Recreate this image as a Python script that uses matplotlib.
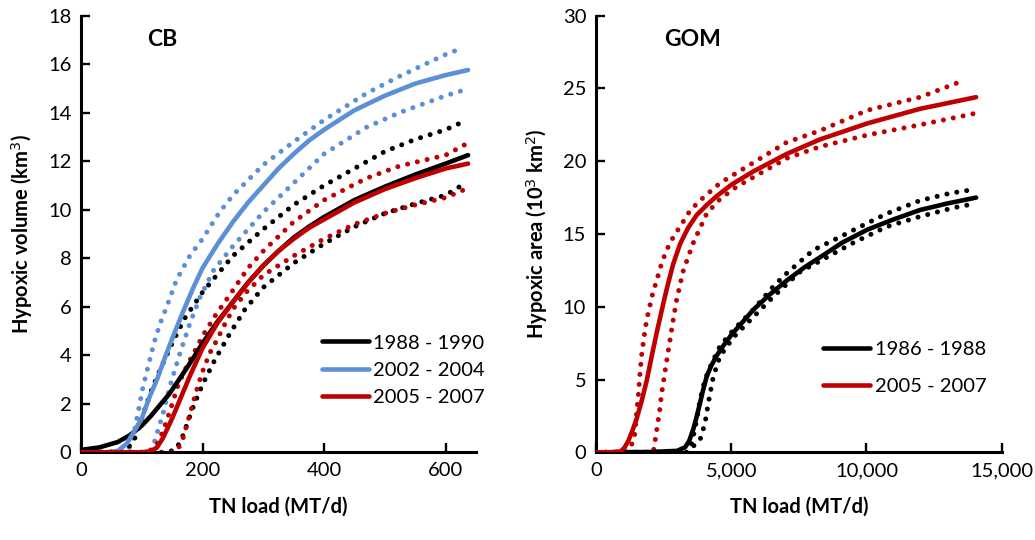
import matplotlib
matplotlib.use("Agg")
import matplotlib.pyplot as plt

plt.rcParams['font.family'] = ['Lato', 'DejaVu Sans']

# ---------------- CB (Chesapeake Bay) ----------------
cb_labels = ["1988 - 1990", "2002 - 2004", "2005 - 2007"]

cb88_x = [0, 30, 60, 80, 100, 115, 130, 145, 160, 180, 200, 225, 250, 275, 300, 325, 350, 375, 400, 450, 500, 550, 600, 637]
cb88_y = [0.1, 0.2, 0.42, 0.7, 1.1, 1.5, 1.95, 2.4, 2.95, 3.7, 4.5, 5.4, 6.2, 7.0, 7.7, 8.3, 8.85, 9.3, 9.7, 10.4, 10.95, 11.45, 11.9, 12.25]
cb88_up_x = [0, 40, 70, 86, 100, 115, 130, 150, 170, 200, 250, 300, 350, 400, 450, 500, 550, 600, 623]
cb88_up_y = [0, 0, 0.05, 0.4, 1.4, 2.5, 3.4, 4.5, 5.5, 6.6, 8.1, 9.2, 10.2, 11.0, 11.7, 12.4, 12.9, 13.3, 13.56]
cb88_lo_x = [0, 140, 155, 165, 175, 185, 200, 220, 245, 270, 300, 350, 400, 450, 500, 550, 600, 623]
cb88_lo_y = [0, 0, 0.1, 0.5, 1.2, 1.9, 2.8, 3.8, 4.9, 5.9, 6.8, 7.8, 8.6, 9.3, 9.85, 10.25, 10.6, 10.95]

cb02_x = [0, 40, 60, 75, 86, 100, 113, 125, 141, 155, 168, 185, 200, 225, 250, 275, 300, 325, 350, 375, 400, 450, 500, 550, 600, 637]
cb02_y = [0, 0, 0.05, 0.35, 0.8, 1.4, 2.3, 3.0, 4.1, 5.0, 5.8, 6.8, 7.6, 8.6, 9.5, 10.3, 11.0, 11.7, 12.3, 12.85, 13.3, 14.1, 14.7, 15.2, 15.55, 15.76]
cb02_up_x = [0, 60, 75, 82, 88, 95, 102, 110, 120, 130, 141, 157, 179, 200, 228, 250, 300, 350, 400, 470, 524, 600, 626]
cb02_up_y = [0, 0, 0.05, 0.3, 0.9, 1.8, 2.7, 3.5, 4.5, 5.3, 6.0, 7.1, 8.1, 8.8, 9.9, 10.6, 11.85, 12.8, 13.7, 14.8, 15.5, 16.4, 16.65]
cb02_lo_x = [0, 110, 118, 124, 135, 146, 163, 179, 196, 218, 250, 300, 350, 400, 470, 524, 600, 626]
cb02_lo_y = [0, 0, 0.2, 0.7, 1.6, 2.7, 4.1, 5.3, 6.4, 7.5, 8.5, 9.9, 11.1, 12.3, 13.4, 14.0, 14.7, 14.9]

cb05_x = [0, 60, 100, 115, 125, 135, 150, 165, 180, 200, 225, 250, 275, 300, 325, 350, 375, 400, 450, 500, 550, 600, 637]
cb05_y = [0, 0, 0, 0.05, 0.2, 0.6, 1.4, 2.3, 3.2, 4.3, 5.35, 6.2, 7.0, 7.7, 8.3, 8.8, 9.25, 9.6, 10.3, 10.85, 11.3, 11.7, 11.9]
cb05_up_x = [0, 110, 122, 132, 141, 150, 160, 175, 190, 200, 220, 245, 275, 300, 350, 400, 470, 524, 600, 633]
cb05_up_y = [0, 0, 0.2, 0.7, 1.3, 2.0, 2.8, 3.6, 4.3, 4.8, 5.6, 6.5, 7.6, 8.3, 9.5, 10.4, 11.3, 11.8, 12.25, 12.7]
cb05_lo_x = [0, 140, 152, 160, 168, 176, 185, 193, 201, 212, 223, 237, 250, 272, 300, 350, 400, 450, 500, 550, 600, 633]
cb05_lo_y = [0, 0, 0, 0.15, 0.6, 1.3, 2.1, 2.8, 3.4, 4.1, 4.6, 5.3, 5.9, 6.6, 7.3, 8.1, 8.8, 9.4, 9.85, 10.2, 10.5, 10.85]

cb_xticks = [0, 200, 400, 600]
cb_yticks = [0, 2, 4, 6, 8, 10, 12, 14, 16, 18]

# ---------------- GOM (Gulf of Mexico) ----------------
gom_labels = ["1986 - 1988", "2005 - 2007"]

gom86_x = [0, 2000, 3000, 3300, 3450, 3600, 3724, 3850, 3950, 4094, 4250, 4450, 4700, 5018, 5400, 5820, 6400, 7053, 7700, 8286, 9100, 10037, 11000, 11985, 13000, 14056]
gom86_y = [0, 0.02, 0.1, 0.35, 0.8, 1.6, 2.45, 3.4, 4.2, 5.2, 5.9, 6.6, 7.3, 8.1, 8.9, 9.8, 10.8, 11.8, 12.7, 13.4, 14.4, 15.3, 16.0, 16.65, 17.1, 17.5]
gom86_up_x = [0, 3000, 3354, 3540, 3724, 3847, 4032, 4278, 4587, 5080, 5820, 6560, 7053, 8040, 9025, 9765, 10752, 11985, 13095, 13773]
gom86_up_y = [0, 0, 0, 0.6, 2.2, 3.6, 5.0, 6.1, 7.3, 8.4, 9.8, 11.4, 12.3, 13.9, 14.8, 15.5, 16.4, 17.3, 17.8, 18.0]
gom86_lo_x = [0, 3354, 3847, 4032, 4155, 4340, 4587, 5080, 5820, 6560, 7546, 8533, 9519, 10752, 11985, 13218, 14056]
gom86_lo_y = [0, 0, 0.85, 2.0, 3.4, 5.2, 6.6, 7.9, 9.3, 10.7, 12.4, 13.4, 14.4, 15.5, 16.2, 16.8, 17.1]

gom05_x = [0, 500, 900, 1050, 1200, 1350, 1504, 1700, 1874, 2050, 2244, 2450, 2614, 2850, 3107, 3400, 3724, 4100, 4463, 5018, 5820, 7053, 8286, 10037, 11985, 14056]
gom05_y = [0, 0, 0.05, 0.3, 0.8, 1.5, 2.3, 3.6, 4.9, 6.5, 8.2, 9.9, 11.2, 12.9, 14.3, 15.4, 16.3, 17.0, 17.6, 18.4, 19.3, 20.5, 21.5, 22.6, 23.6, 24.4]
gom05_up_x = [0, 900, 1100, 1300, 1443, 1504, 1566, 1628, 1690, 1776, 1874, 1973, 2096, 2244, 2429, 2614, 2861, 3107, 3477, 3847, 4587, 5820, 7053, 8286, 10037, 11985, 13526]
gom05_up_y = [0, 0, 0, 0.4, 1.3, 2.7, 3.9, 5.4, 6.7, 7.9, 9.1, 9.9, 10.9, 11.8, 13.0, 13.9, 14.8, 15.5, 16.6, 17.3, 18.5, 19.9, 21.3, 22.1, 23.5, 24.4, 25.5]
gom05_lo_x = [0, 2000, 2121, 2244, 2350, 2429, 2550, 2676, 2830, 2984, 3231, 3600, 4094, 4587, 5203, 5820, 7053, 8286, 10037, 11985, 14056]
gom05_lo_y = [0, 0, 0, 1.5, 2.8, 4.05, 5.5, 7.0, 8.8, 10.5, 12.5, 14.4, 16.4, 17.4, 18.25, 18.9, 20.2, 21.0, 21.8, 22.5, 23.3]

gom_xticks = [0, 5000, 10000, 15000]
gom_xticklabels = ["0", "5,000", "10,000", "15,000"]
gom_yticks = [0, 5, 10, 15, 20, 25, 30]

# ---------------- styling ----------------
BLACK = "#000000"
BLUE = "#5B8FD6"
RED = "#C00000"
SOLID_LW = 3.3
DOT_LW = 3.6
DOT_STYLE = (0, (0.01, 2.0))
TICK_FS = 14.5
LABEL_FS = 14.5

fig = plt.figure(figsize=(10.35, 5.4), dpi=100)
ax1 = fig.add_axes([0.0783, 0.1624, 0.3816, 0.8086])
ax2 = fig.add_axes([0.5758, 0.1624, 0.3920, 0.8086])


def dotted(ax, x, y, c):
    ax.plot(x, y, color=c, lw=DOT_LW, linestyle=DOT_STYLE,
            dash_capstyle='round', solid_capstyle='round', zorder=2)


def solid(ax, x, y, c, label):
    ax.plot(x, y, color=c, lw=SOLID_LW, solid_capstyle='round',
            solid_joinstyle='round', label=label, zorder=3)


def style(ax):
    for s in ["top", "right"]:
        ax.spines[s].set_visible(False)
    for s in ["left", "bottom"]:
        ax.spines[s].set_linewidth(2.2)
        ax.spines[s].set_color("black")
    ax.tick_params(direction='in', length=6.5, width=1.7, labelsize=TICK_FS,
                   pad=7, colors='black')


# CB panel
dotted(ax1, cb02_up_x, cb02_up_y, BLUE)
dotted(ax1, cb02_lo_x, cb02_lo_y, BLUE)
dotted(ax1, cb88_up_x, cb88_up_y, BLACK)
dotted(ax1, cb88_lo_x, cb88_lo_y, BLACK)
dotted(ax1, cb05_up_x, cb05_up_y, RED)
dotted(ax1, cb05_lo_x, cb05_lo_y, RED)
solid(ax1, cb88_x, cb88_y, BLACK, cb_labels[0])
solid(ax1, cb02_x, cb02_y, BLUE, cb_labels[1])
solid(ax1, cb05_x, cb05_y, RED, cb_labels[2])
ax1.set_xlim(0, 650)
ax1.set_ylim(0, 18)
ax1.set_xticks(cb_xticks)
ax1.set_yticks(cb_yticks)
style(ax1)
ax1.set_xlabel("TN load (MT/d)", fontsize=LABEL_FS, fontweight='bold', labelpad=13)
ax1.set_ylabel("Hypoxic volume (km$^3$)", fontsize=LABEL_FS, fontweight='bold', labelpad=9)
ax1.text(0.205, 0.945, "CB", transform=ax1.transAxes, fontsize=16.5, fontweight='bold',
         ha='center', va='center')
ax1.legend(loc='upper left', bbox_to_anchor=(0.61, 0.27), frameon=False,
           fontsize=TICK_FS, handlelength=2.35, handletextpad=0.2, labelspacing=0.5,
           borderpad=0, borderaxespad=0)

# GOM panel
dotted(ax2, gom86_up_x, gom86_up_y, BLACK)
dotted(ax2, gom86_lo_x, gom86_lo_y, BLACK)
dotted(ax2, gom05_up_x, gom05_up_y, RED)
dotted(ax2, gom05_lo_x, gom05_lo_y, RED)
solid(ax2, gom86_x, gom86_y, BLACK, gom_labels[0])
solid(ax2, gom05_x, gom05_y, RED, gom_labels[1])
ax2.set_xlim(0, 15000)
ax2.set_ylim(0, 30)
ax2.set_xticks(gom_xticks)
ax2.set_xticklabels(gom_xticklabels)
ax2.set_yticks(gom_yticks)
style(ax2)
ax2.set_xlabel("TN load (MT/d)", fontsize=LABEL_FS, fontweight='bold', labelpad=13)
ax2.set_ylabel("Hypoxic area (10$^3$ km$^2$)", fontsize=LABEL_FS, fontweight='bold', labelpad=9)
ax2.text(0.237, 0.945, "GOM", transform=ax2.transAxes, fontsize=16.5, fontweight='bold',
         ha='center', va='center')
ax2.legend(loc='upper left', bbox_to_anchor=(0.56, 0.255), frameon=False,
           fontsize=TICK_FS, handlelength=2.35, handletextpad=0.2, labelspacing=1.0,
           borderpad=0, borderaxespad=0)

fig.savefig("out.png", dpi=100)
